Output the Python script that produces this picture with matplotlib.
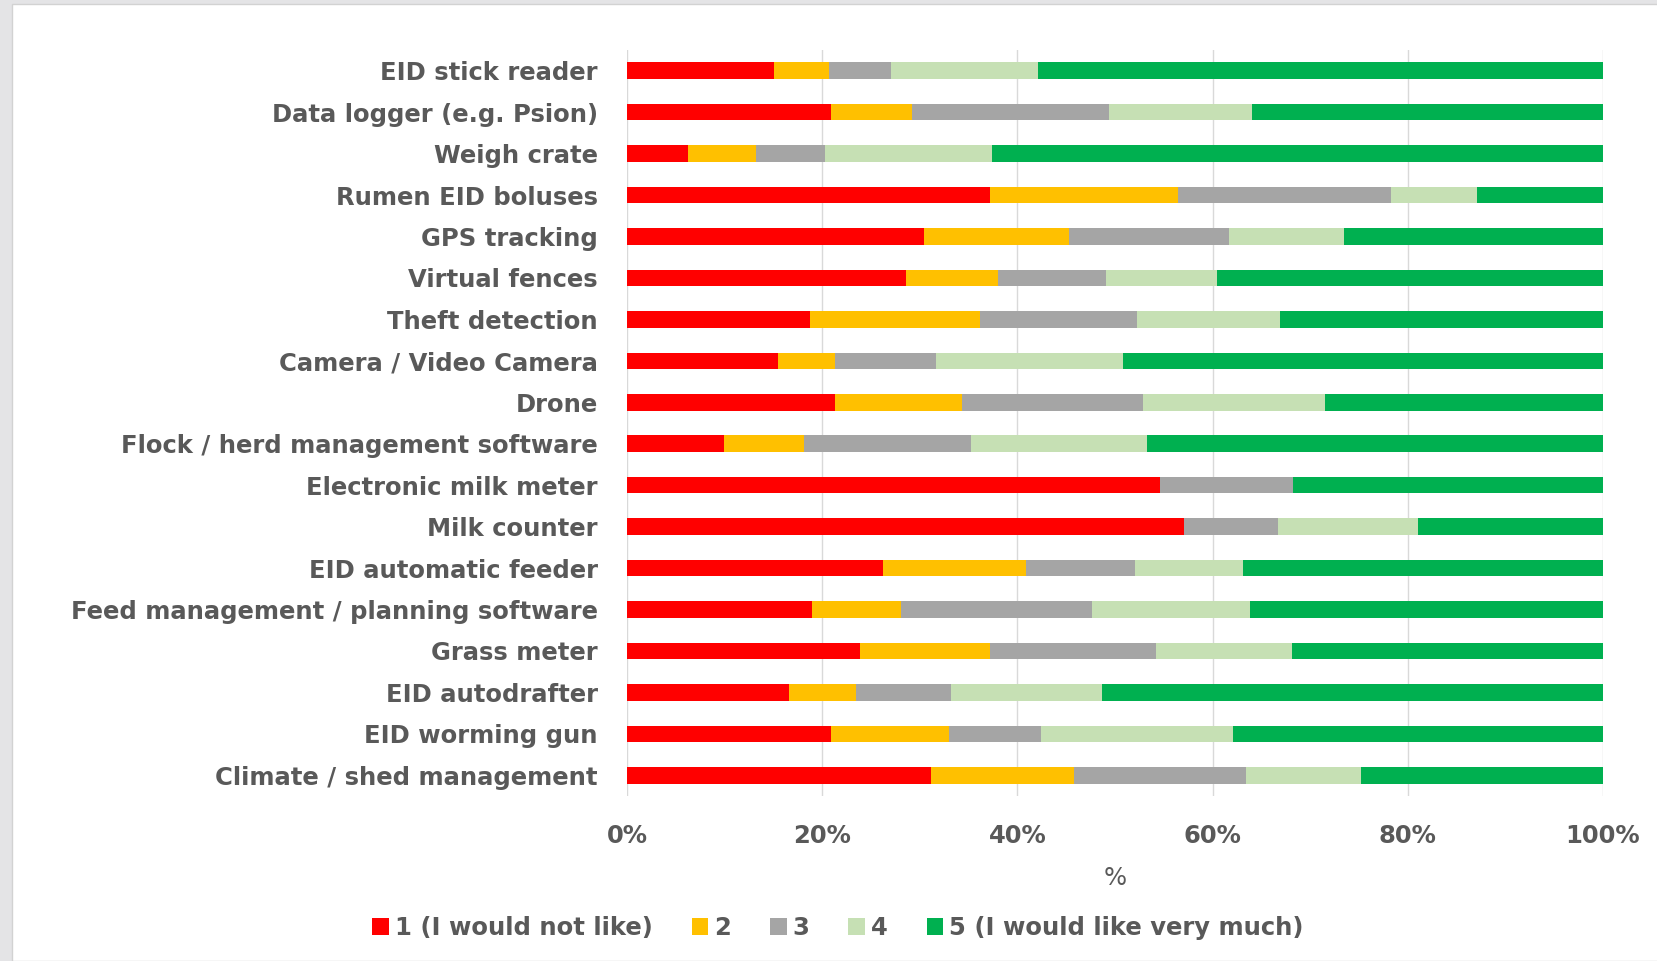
import numpy as np
import matplotlib
matplotlib.use("Agg")
import matplotlib.pyplot as plt
from matplotlib.patches import Rectangle

# Technology ratings, share of respondents per score (top row first)
categories = [
    "EID stick reader",
    "Data logger (e.g. Psion)",
    "Weigh crate",
    "Rumen EID boluses",
    "GPS tracking",
    "Virtual fences",
    "Theft detection",
    "Camera / Video Camera",
    "Drone",
    "Flock / herd management software",
    "Electronic milk meter",
    "Milk counter",
    "EID automatic feeder",
    "Feed management / planning software",
    "Grass meter",
    "EID autodrafter",
    "EID worming gun",
    "Climate / shed management",
]
score1 = [15.0, 20.9, 6.2, 37.2, 30.4, 28.6, 18.7, 15.5, 21.3, 9.9, 54.6, 57.1, 26.2, 19.0, 23.9, 16.6, 20.9, 31.1]
score2 = [5.7, 8.3, 7.0, 19.3, 14.9, 9.4, 17.5, 5.8, 13.0, 8.2, 0.0, 0.0, 14.7, 9.1, 13.3, 6.9, 12.1, 14.7]
score3 = [6.3, 20.2, 7.1, 21.8, 16.4, 11.1, 16.1, 10.4, 18.6, 17.1, 13.6, 9.6, 11.1, 19.5, 17.0, 9.7, 9.4, 17.6]
score4 = [15.1, 14.6, 17.1, 8.8, 11.8, 11.4, 14.6, 19.1, 18.6, 18.1, 0.0, 14.3, 11.1, 16.2, 13.9, 15.5, 19.7, 11.8]
score5 = [57.8, 36.0, 62.6, 12.9, 26.5, 39.5, 33.1, 49.2, 28.5, 46.7, 31.8, 19.0, 36.9, 36.2, 31.9, 51.3, 37.9, 24.8]

series_names = ["1 (I would not like)", "2", "3", "4", "5 (I would like very much)"]
series_colors = ["#FF0000", "#FFC000", "#A5A5A5", "#C6E0B4", "#00B050"]
xticks = [0, 20, 40, 60, 80, 100]

text_color = "#595959"
fsize = 17.5
plt.rcParams["font.family"] = ["DejaVu Sans"]

W, H = 1658, 961
fig = plt.figure(figsize=(W / 100, H / 100), dpi=100)
fig.patch.set_facecolor("#E4E4E6")
# white chart area with thin border
fig.add_artist(Rectangle((12 / W, 0), 1 - 12 / W, 1 - 4 / H, transform=fig.transFigure,
                         facecolor="white", edgecolor="#D2D2D2", lw=1.0, zorder=0))

ax = fig.add_axes([627 / W, 1 - 796 / H, (1603 - 627) / W, (796 - 50) / H])
ax.set_facecolor("none")

data = np.array([score1, score2, score3, score4, score5], dtype=float)
shares = data / data.sum(axis=0) * 100
y = np.arange(len(categories))

left = np.zeros(len(categories))
handles = []
for vals, name, col in zip(shares, series_names, series_colors):
    b = ax.barh(y, vals, left=left, height=0.4, color=col, label=name, linewidth=0, zorder=3)
    handles.append(b)
    left += vals

ax.set_xlim(0, 100)
ax.set_ylim(len(categories) - 0.5, -0.5)
ax.set_yticks(y)
ax.set_yticklabels(categories)
ax.set_xticks(xticks)
ax.set_xticklabels([f"{t}%" for t in xticks])
ax.grid(axis="x", color="#D9D9D9", linewidth=1.0, zorder=0)
for s in ax.spines.values():
    s.set_visible(False)
ax.tick_params(axis="both", length=0, colors=text_color, labelsize=fsize)
ax.tick_params(axis="y", pad=21)
ax.tick_params(axis="x", pad=20)
for lab in ax.get_yticklabels() + ax.get_xticklabels():
    lab.set_fontweight("bold")
ax.set_xlabel("%", fontsize=fsize, color=text_color, labelpad=13)

fig.legend(handles=handles, labels=series_names, loc="center", ncol=5,
           bbox_to_anchor=(838 / W, 1 - 928 / H), frameon=False,
           prop={"size": fsize, "weight": "bold"}, labelcolor=text_color,
           handlelength=0.68, handleheight=0.68, handletextpad=0.25, columnspacing=1.6)

fig.savefig("out.png", dpi=100)
